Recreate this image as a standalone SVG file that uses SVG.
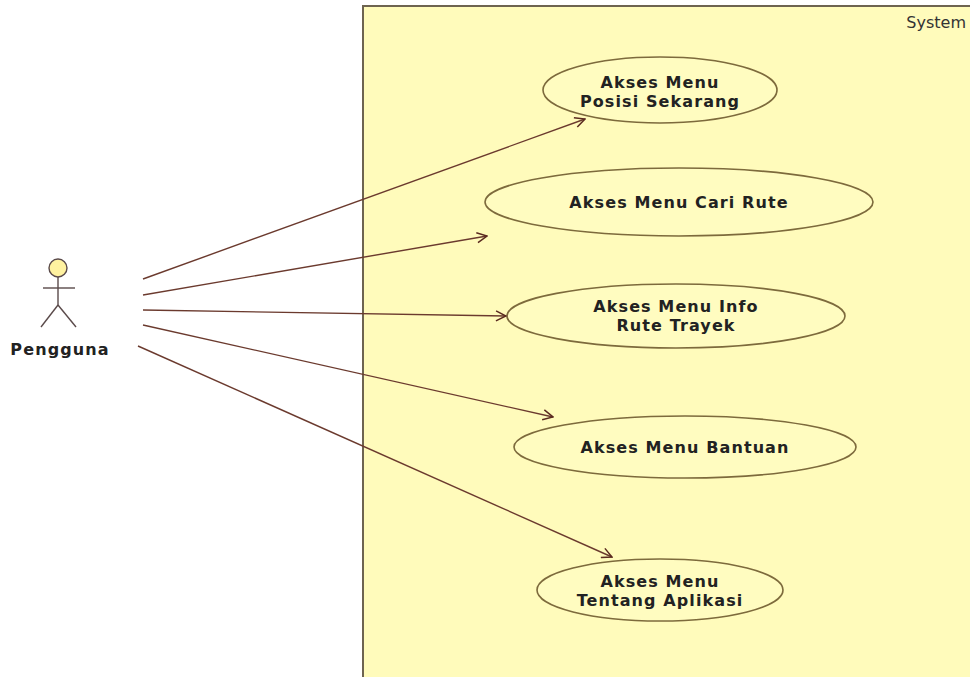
<svg xmlns="http://www.w3.org/2000/svg" width="970" height="677" viewBox="0 0 970 677">
  <defs>
    <style>
      .uc { fill: #fffcc0; stroke: #7d6a3c; stroke-width: 1.6; }
      .lbl { font-family: "DejaVu Sans", Verdana, sans-serif; font-weight: bold; font-size: 16px; letter-spacing: 1.1px; fill: #222; text-anchor: middle; }
      .assoc { stroke: #6b3a2e; stroke-width: 1.4; fill: none; marker-end: url(#open); }
      .actor { stroke: #5a4a4a; stroke-width: 1.4; fill: none; }
    </style>
    <marker id="open" viewBox="0 0 12 12" refX="11" refY="6" markerWidth="12" markerHeight="12" markerUnits="userSpaceOnUse" orient="auto">
      <path d="M1,1 L11,6 L1,11" fill="none" stroke="#5a2a20" stroke-width="1.5"/>
    </marker>
  </defs>

  <rect width="970" height="677" fill="#ffffff"/>

  <!-- system boundary -->
  <g id="system">
    <rect x="363" y="6" width="620" height="690" fill="#fffbbb" stroke="#6e6450" stroke-width="2"/>
    <text x="966" y="28" font-family="DejaVu Sans, Verdana, sans-serif" font-size="16" fill="#333" text-anchor="end">System</text>
  </g>

  <!-- actor -->
  <g id="pengguna">
    <circle cx="58" cy="268" r="9" fill="#fff2a0" stroke="#5a4a4a" stroke-width="1.4"/>
    <line class="actor" x1="58" y1="277" x2="58" y2="305"/>
    <line class="actor" x1="43" y1="288" x2="75" y2="288"/>
    <line class="actor" x1="58" y1="305" x2="41" y2="327"/>
    <line class="actor" x1="58" y1="305" x2="76" y2="327"/>
    <text x="60" y="355" class="lbl">Pengguna</text>
  </g>

  <!-- use cases -->
  <g id="uc-posisi">
    <ellipse class="uc" cx="660" cy="90" rx="117" ry="33"/>
    <text class="lbl" x="660" y="88">Akses Menu</text>
    <text class="lbl" x="660" y="107">Posisi Sekarang</text>
  </g>
  <g id="uc-cari-rute">
    <ellipse class="uc" cx="679" cy="202" rx="194" ry="34"/>
    <text class="lbl" x="679" y="208">Akses Menu Cari Rute</text>
  </g>
  <g id="uc-info-rute">
    <ellipse class="uc" cx="676" cy="316" rx="169" ry="32"/>
    <text class="lbl" x="676" y="312">Akses Menu Info</text>
    <text class="lbl" x="676" y="331">Rute Trayek</text>
  </g>
  <g id="uc-bantuan">
    <ellipse class="uc" cx="685" cy="447" rx="171" ry="31"/>
    <text class="lbl" x="685" y="453">Akses Menu Bantuan</text>
  </g>
  <g id="uc-tentang">
    <ellipse class="uc" cx="660" cy="590" rx="123" ry="31"/>
    <text class="lbl" x="660" y="587">Akses Menu</text>
    <text class="lbl" x="660" y="606">Tentang Aplikasi</text>
  </g>

  <!-- associations -->
  <g id="connectors">
    <line class="assoc" x1="143" y1="279" x2="585" y2="119"/>
    <line class="assoc" x1="143" y1="295" x2="487" y2="236"/>
    <line class="assoc" x1="143" y1="310" x2="506" y2="316"/>
    <line class="assoc" x1="143" y1="325" x2="553" y2="417"/>
    <line class="assoc" x1="138" y1="346" x2="612" y2="557"/>
  </g>
</svg>
